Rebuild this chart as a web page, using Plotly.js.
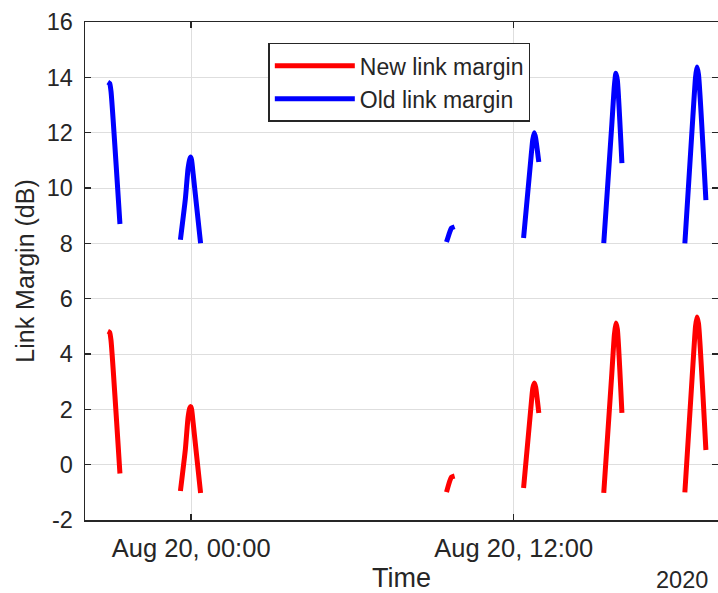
<!DOCTYPE html>
<html>
<head>
<meta charset="utf-8">
<script src="https://cdn.plot.ly/plotly-3.0.1.min.js"></script>
<style>
html,body{margin:0;padding:0;background:#fff;}
#chart{width:718px;height:593px;}
</style>
</head>
<body>
<div id="chart"></div>
<script>
// Time stamps (pass segments separated by a null gap entry)
const times = [
  '2020-08-19 20:54','2020-08-19 20:58','2020-08-19 21:01','2020-08-19 21:21',
  '2020-08-19 22:30',
  '2020-08-19 23:36','2020-08-19 23:47','2020-08-19 23:53','2020-08-19 23:57','2020-08-19 23:59','2020-08-20 00:01','2020-08-20 00:04:30','2020-08-20 00:21',
  '2020-08-20 05:00',
  '2020-08-20 09:30','2020-08-20 09:37','2020-08-20 09:41','2020-08-20 09:48',
  '2020-08-20 11:00',
  '2020-08-20 12:22','2020-08-20 12:38','2020-08-20 12:42:30','2020-08-20 12:46','2020-08-20 12:49','2020-08-20 12:56',
  '2020-08-20 14:00',
  '2020-08-20 15:21','2020-08-20 15:39','2020-08-20 15:44:40','2020-08-20 15:48','2020-08-20 15:51:20','2020-08-20 16:01:30',
  '2020-08-20 17:00',
  '2020-08-20 18:22','2020-08-20 18:40','2020-08-20 18:45:50','2020-08-20 18:49','2020-08-20 18:52:30','2020-08-20 19:09'
];
const newMargin = [
  4.82, 4.78, 4.5, -0.32,
  null,
  -0.95, 0.55, 1.7, 2.05, 2.1, 2.0, 1.5, -1.02,
  null,
  -0.99, -0.6, -0.45, -0.41,
  null,
  -0.84, 2.0, 2.75, 2.95, 2.8, 1.87,
  null,
  -1.02, 3.3, 4.7, 5.12, 4.9, 1.87,
  null,
  -1.0, 3.6, 5.0, 5.34, 5.1, 0.53
];
const oldMargin = [
  13.83, 13.78, 13.5, 8.7,
  null,
  8.13, 9.6, 10.7, 11.05, 11.12, 11.0, 10.5, 8.0,
  null,
  8.05, 8.4, 8.55, 8.6,
  null,
  8.19, 11.0, 11.75, 12.0, 11.8, 10.94,
  null,
  8.01, 12.3, 13.7, 14.15, 13.9, 10.9,
  null,
  8.0, 12.6, 14.0, 14.37, 14.1, 9.56
];
const seriesNames = ['New link margin', 'Old link margin'];
const xTickVals = ['2020-08-20 00:00', '2020-08-20 12:00'];
const xTickText = ['Aug 20, 00:00', 'Aug 20, 12:00'];
const yTickVals = [-2, 0, 2, 4, 6, 8, 10, 12, 14, 16];
const yTickText = ['-2', '0', '2', '4', '6', '8', '10', '12', '14', '16'];
const yearLabel = '2020';

const axisColor = '#262626';
const gridColor = '#dedede';
const fontFam = 'Liberation Sans, Arial, Helvetica, sans-serif';

const traces = [
  {x: times, y: newMargin, name: seriesNames[0], type: 'scatter', mode: 'lines',
   connectgaps: false, line: {color: '#ff0000', width: 5, shape: 'spline', smoothing: 0.5}},
  {x: times, y: oldMargin, name: seriesNames[1], type: 'scatter', mode: 'lines',
   connectgaps: false, line: {color: '#0000ff', width: 5, shape: 'spline', smoothing: 0.5}}
];

const layout = {
  width: 718, height: 593,
  margin: {l: 85, r: 0, t: 22, b: 73},
  paper_bgcolor: '#ffffff', plot_bgcolor: '#ffffff',
  font: {family: fontFam, color: axisColor, size: 23},
  showlegend: true,
  legend: {
    x: 0.2896, y: 0.958, xanchor: 'left', yanchor: 'top',
    bgcolor: '#ffffff', bordercolor: axisColor, borderwidth: 1.5,
    font: {family: fontFam, size: 23, color: axisColor},
    itemwidth: 80, tracegroupgap: 0
  },
  xaxis: {
    type: 'date',
    range: ['2020-08-19 20:03', '2020-08-20 19:36'],
    tickmode: 'array', tickvals: xTickVals, ticktext: xTickText,
    showgrid: true, gridcolor: gridColor, gridwidth: 1,
    showline: true, linecolor: axisColor, linewidth: 1.5, mirror: 'ticks',
    ticks: 'inside', ticklen: 6, tickcolor: axisColor, tickwidth: 1.5,
    tickfont: {size: 25.5, color: axisColor},
    ticklabelstandoff: 5,
    zeroline: false,
    title: {text: 'Time', font: {size: 27, color: axisColor}, standoff: 9}
  },
  yaxis: {
    range: [-2, 16],
    tickmode: 'array', tickvals: yTickVals, ticktext: yTickText,
    showgrid: true, gridcolor: gridColor, gridwidth: 1,
    showline: true, linecolor: axisColor, linewidth: 1.5, mirror: 'ticks',
    ticks: 'inside', ticklen: 6, tickcolor: axisColor, tickwidth: 1.5,
    tickfont: {size: 23.5, color: axisColor},
    ticklabelstandoff: 6,
    zeroline: false,
    title: {text: 'Link Margin (dB)', font: {size: 25, color: axisColor}, standoff: 5}
  },
  annotations: [{
    text: yearLabel, xref: 'paper', yref: 'paper',
    x: 0.943, y: -0.1205, xanchor: 'center', yanchor: 'middle',
    showarrow: false, font: {size: 23.5, color: axisColor}
  }]
};

Plotly.newPlot('chart', traces, layout, {displayModeBar: false, staticPlot: true});
</script>
</body>
</html>
